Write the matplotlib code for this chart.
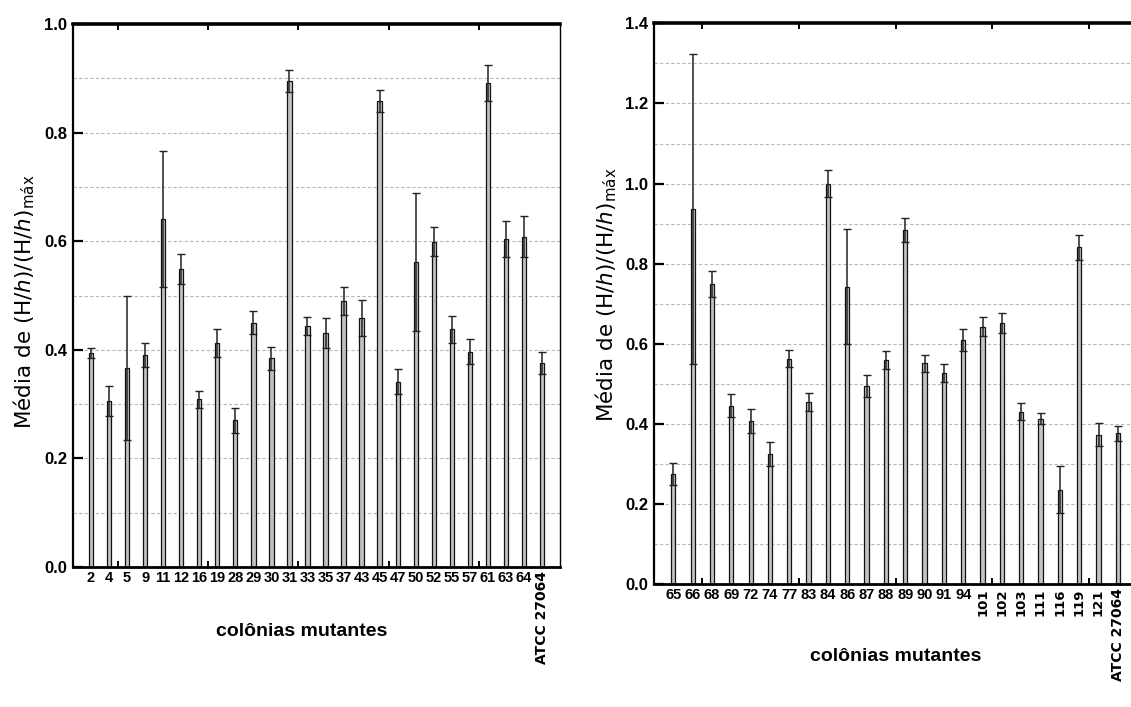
import matplotlib
matplotlib.use("Agg")
import matplotlib.pyplot as plt
import numpy as np

# mutant colonies, panel A
left_labels = ["2", "4", "5", "9", "11", "12", "16", "19", "28", "29", "30", "31", "33",
               "35", "37", "43", "45", "47", "50", "52", "55", "57", "61", "63", "64",
               "ATCC 27064"]
left_mean = [0.394, 0.306, 0.366, 0.390, 0.641, 0.549, 0.309, 0.412, 0.270, 0.450,
             0.384, 0.895, 0.444, 0.431, 0.490, 0.459, 0.858, 0.341, 0.562, 0.599,
             0.438, 0.396, 0.891, 0.604, 0.608, 0.376]
left_err = [0.009, 0.027, 0.133, 0.022, 0.125, 0.027, 0.016, 0.026, 0.023, 0.021,
            0.022, 0.020, 0.017, 0.027, 0.025, 0.033, 0.020, 0.023, 0.127, 0.027,
            0.025, 0.023, 0.033, 0.034, 0.038, 0.020]

# mutant colonies, panel B
right_labels = ["65", "66", "68", "69", "72", "74", "77", "83", "84", "86", "87", "88",
                "89", "90", "91", "94", "101", "102", "103", "111", "116", "119", "121",
                "ATCC 27064"]
right_mean = [0.276, 0.937, 0.750, 0.446, 0.408, 0.324, 0.563, 0.455, 1.000, 0.743,
              0.495, 0.559, 0.883, 0.552, 0.527, 0.610, 0.643, 0.653, 0.431, 0.413,
              0.236, 0.841, 0.373, 0.377]
right_err = [0.027, 0.387, 0.033, 0.028, 0.030, 0.030, 0.021, 0.023, 0.034, 0.143,
             0.027, 0.022, 0.030, 0.021, 0.022, 0.028, 0.023, 0.025, 0.021, 0.014,
             0.059, 0.031, 0.029, 0.019]

SANS = ["Liberation Sans", "DejaVu Sans"]
YLABEL = r"Média de (H/$h$)/(H/$h$)$_{\rm máx}$"

fig = plt.figure(figsize=(11.31, 7.07), dpi=100)
axL = fig.add_axes([73 / 1131, 1 - 567 / 707, 487 / 1131, 543 / 707])
axR = fig.add_axes([654 / 1131, 1 - 584.3 / 707, 489 / 1131, 561 / 707])


def draw(ax, labels, mean, err, ymax, width, rotate_from, right_pad):
    n = len(labels)
    x = np.arange(n)
    ax.set_axisbelow(True)
    ax.bar(x, mean, width=width, color="#c2c2c2", edgecolor="#111111", linewidth=0.9,
           yerr=err, capsize=3.2,
           error_kw=dict(ecolor="#222222", elinewidth=1.1, capthick=1.0))
    ax.set_xlim(-1, n - 1 + right_pad)
    ax.set_ylim(0, ymax)

    # dashed grid every 0.1, labelled ticks every 0.2
    for g in np.arange(0.1, ymax - 0.05, 0.1):
        ax.axhline(g, color="#b8b8b8", lw=0.8, ls=(0, (3, 2)), zorder=0)
    yt = np.arange(0, ymax + 0.01, 0.2)
    ax.set_yticks(yt)
    ax.set_yticklabels([f"{v:.1f}" for v in yt], family=SANS, fontweight="bold",
                       fontsize=12)
    ax.tick_params(axis="y", direction="in", length=7, width=1.6, pad=4)

    ax.set_xticks(x)
    ax.set_xticklabels(labels, family=SANS, fontweight="bold", fontsize=10.5)
    ax.tick_params(axis="x", which="major", length=0, pad=3)
    for i, t in enumerate(ax.get_xticklabels()):
        if i >= rotate_from:
            t.set_rotation(90)
            t.set_fontfamily("DejaVu Sans")
            t.set_fontsize(10 if i == n - 1 else 9.5)
    ax.set_xticks(np.arange(-1, n, 2.5), minor=True)
    ax.tick_params(axis="x", which="minor", direction="in", length=4, width=1.4,
                   top=True, bottom=True)

    ax.spines["top"].set_linewidth(2.6)
    ax.spines["bottom"].set_linewidth(2.0)
    ax.spines["left"].set_linewidth(1.6)
    ax.spines["right"].set_linewidth(1.0)

    ax.set_xlabel("colônias mutantes", family=SANS, fontweight="bold", fontsize=14)
    ax.set_ylabel(YLABEL, family="DejaVu Sans", fontsize=15.5)
    ax.yaxis.label.set_va("center")


draw(axL, left_labels, left_mean, left_err, 1.0, 0.24, len(left_labels) - 1, 1.0)
draw(axR, right_labels, right_mean, right_err, 1.4, 0.22, 16, 1.3)

axL.xaxis.set_label_coords(0.47, -0.103)
axR.xaxis.set_label_coords(0.495, -0.1135)
axL.yaxis.set_label_coords(-0.10, 0.488)
axR.yaxis.set_label_coords(-0.097, 0.516)

fig.savefig("out.png", dpi=100)
